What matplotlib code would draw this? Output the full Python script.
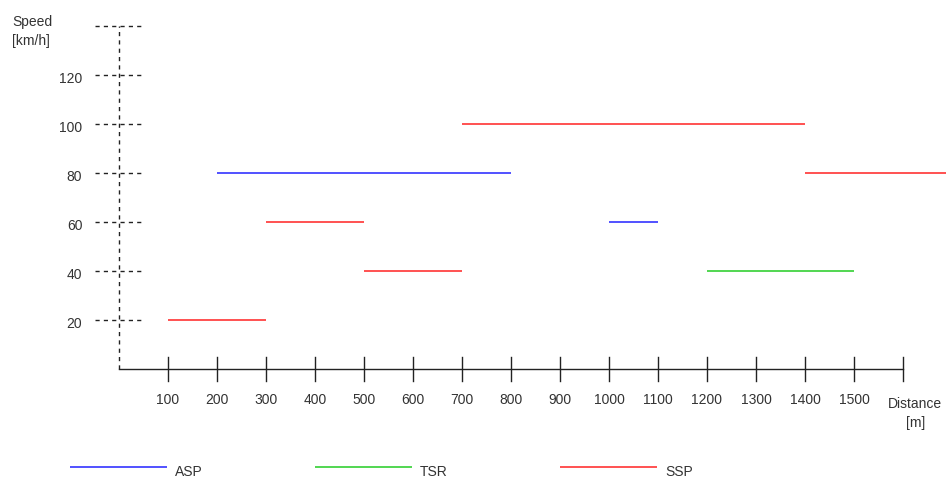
import matplotlib.pyplot as plt
import numpy as np

plt.rcParams['font.family'] = ['Liberation Sans', 'DejaVu Sans']

# segments: (start m, end m, speed km/h)
asp = [(200, 800, 80), (1000, 1100, 60)]
tsr = [(1200, 1500, 40)]
ssp = [(100, 300, 20), (300, 500, 60), (500, 700, 40), (700, 1400, 100), (1400, 1690, 80)]

x_ticks = np.arange(100, 1600, 100)
y_ticks = [20, 40, 60, 80, 100, 120]
y_top = 140
x_end = 1600

series = [('ASP', asp, '#2222ff'), ('TSR', tsr, '#22cc22'), ('SSP', ssp, '#ff2222')]

fig = plt.figure(figsize=(9.46, 4.79), dpi=100)
ax = fig.add_axes([0, 0, 1, 1])
# 49 px per 100 m, 49 px per 20 km/h; origin at pixel (119, 369)
ax.set_xlim(-119 / 0.49, (946 - 119) / 0.49)
ax.set_ylim(-(479 - 369) * 20 / 49, 369 * 20 / 49)
ax.axis('off')

txt = '#333333'
axc = '#222222'

# y axis (dashed) and dashed grid stubs
ax.plot([0, 0], [0, y_top], color=axc, lw=1, ls=(0, (3, 3)))
for v in y_ticks + [y_top]:
    ax.plot([-49, 49], [v, v], color=axc, lw=1, ls=(0, (3, 3)))
for v in y_ticks:
    ax.text(-75, v - 1.8, str(v), ha='right', va='center', fontsize=10, color=txt)

# x axis
ax.plot([0, x_end], [0, 0], color=axc, lw=1)
for v in list(x_ticks) + [x_end]:
    ax.plot([v, v], [-4.9, 4.9], color=axc, lw=1)
for v in x_ticks:
    ax.text(v, -12.5, str(v), ha='center', va='center', fontsize=10, color=txt)

ax.text(1625, -11.5, 'Distance\n[m]', ha='center', va='top', fontsize=10,
        color=txt, linespacing=1.45)
ax.text(-218, 144.5, 'Speed\n[km/h]', ha='left', va='top', fontsize=10,
        color=txt, linespacing=1.45)

for name, segs, col in series:
    for x0, x1, s in segs:
        ax.plot([x0, x1], [s, s], color=col, lw=1.1, solid_capstyle='butt')

# legend below
leg_y = -(467 - 369) * 20 / 49
for i, (name, segs, col) in enumerate(series):
    x0 = (70 + 245 * i - 119) / 0.49
    x1 = (167 + 245 * i - 119) / 0.49
    ax.plot([x0, x1], [leg_y, leg_y], color=col, lw=1.1, solid_capstyle='butt')
    ax.text((175 + 245 * i - 119) / 0.49, leg_y - 2.0, name, ha='left', va='center',
            fontsize=10, color=txt)

plt.savefig('out.png', dpi=100)
